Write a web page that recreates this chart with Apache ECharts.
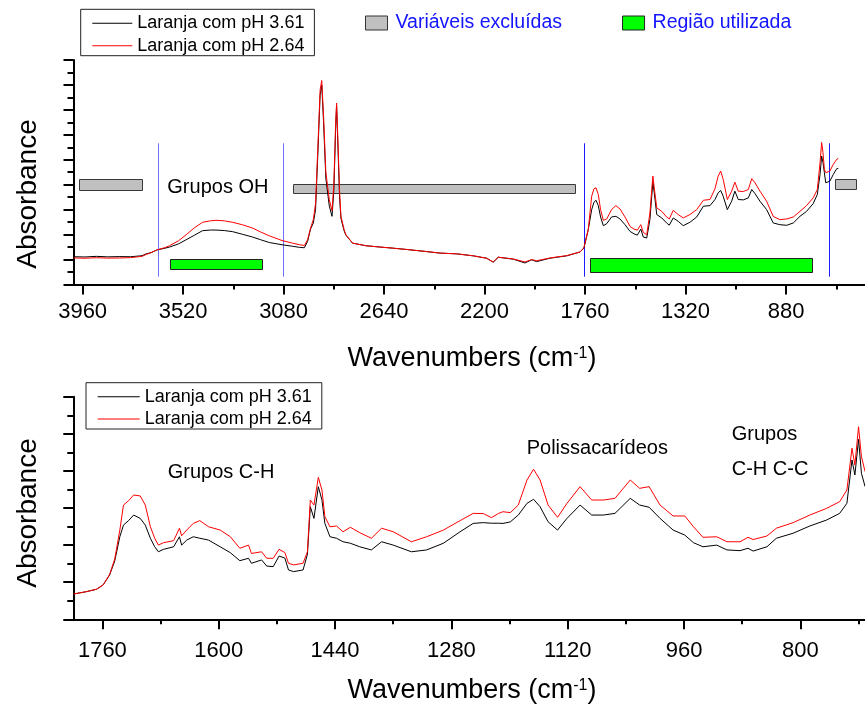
<!DOCTYPE html>
<html><head><meta charset="utf-8">
<script src="https://cdn.jsdelivr.net/npm/echarts@6/dist/echarts.min.js"></script>
<style>html,body{margin:0;padding:0;background:#fff}#c{width:865px;height:715px}</style>
</head><body><div id="c"></div>
<script>
const seriesNames = ['Laranja com pH 3.61', 'Laranja com pH 2.64'];
const regionNames = ['Variáveis excluídas', 'Região utilizada'];
const topTicks = [880, 1320, 1760, 2200, 2640, 3080, 3520, 3960];
const topMinorTicks = [660, 1100, 1540, 1980, 2420, 2860, 3300, 3740];
const bottomTicks = [800, 960, 1120, 1280, 1440, 1600, 1760];
const bottomMinorTicks = [720, 880, 1040, 1200, 1360, 1520, 1680];

const topWavenumbers = [4000,3950,3900,3850,3800,3750,3700,3682,3660,3634,3600,3580,3540,3507,3470,3435,3400,3376,3340,3303,3260,3216,3180,3143,3087,3041,3010,2989,2975,2962,2950,2940,2930,2920,2913,2905,2895,2880,2868,2860,2852,2848,2842,2835,2829,2815,2807,2778,2719,2660,2603,2530,2457,2395,2322,2249,2191,2162,2140,2074,2023,1994,1972,1914,1840,1782,1765,1746,1731,1721,1712,1702,1692,1680,1665,1644,1625,1607,1585,1563,1546,1531,1516,1505,1490,1483,1476,1468,1463,1457,1446,1424,1403,1391,1374,1352,1330,1301,1271,1242,1213,1191,1177,1166,1155,1137,1118,1104,1089,1067,1045,1030,1016,994,965,936,907,877,848,819,790,761,743,731,724,718,712,706,688,673,658,651];
const topPH361 = [2.22,2.20,2.25,2.21,2.23,2.22,2.30,2.45,2.55,2.77,2.90,2.99,3.25,3.58,3.95,4.31,4.36,4.36,4.32,4.23,4.02,3.80,3.58,3.36,3.18,3.06,2.97,2.94,3.45,4.44,4.92,6.0,10.5,15.2,16.0,13.0,8.5,6.3,5.46,7.5,12.5,14.3,11.0,7.0,5.3,4.3,3.95,3.31,3.10,3.0,2.91,2.78,2.64,2.51,2.45,2.29,2.10,1.78,2.18,2.02,1.72,1.97,1.83,2.10,2.29,2.60,2.91,4.39,6.0,6.59,6.75,6.32,5.41,4.71,4.87,5.41,5.46,5.25,4.79,4.25,4.06,3.95,4.44,3.80,3.72,3.85,5.19,7.07,8.2,7.35,5.60,5.33,4.93,4.75,5.33,5.06,4.71,4.98,5.41,6.27,6.32,6.81,7.35,7.53,7.07,6.0,6.67,7.48,6.81,6.78,6.94,7.61,7.29,6.67,6.0,4.93,4.79,4.74,4.93,5.46,5.86,6.48,7.21,8.82,10.3,9.76,8.96,8.15,8.28,8.82,9.28,9.30];
const topPH264 = [2.12,2.10,2.14,2.11,2.12,2.15,2.25,2.40,2.55,2.77,2.95,3.10,3.50,3.98,4.55,4.98,5.10,5.14,5.10,4.98,4.78,4.52,4.20,3.90,3.52,3.31,3.18,3.12,3.58,4.52,5.19,6.5,11.0,15.6,16.35,13.5,9.0,6.8,5.92,8.0,13.0,14.55,11.5,7.5,5.46,4.4,3.98,3.31,3.10,3.0,2.91,2.78,2.64,2.51,2.45,2.29,2.10,1.80,2.18,2.04,1.80,1.99,1.90,2.12,2.31,2.60,2.95,4.39,7.07,7.67,7.75,7.21,6.0,5.14,5.25,6.0,6.32,6.05,5.41,4.65,4.44,4.35,4.79,4.17,3.98,4.1,5.73,7.61,8.69,7.75,6.14,5.86,5.41,5.25,5.94,5.60,5.33,5.60,6.0,6.75,6.81,7.67,8.69,9.09,8.42,6.81,7.48,8.2,7.48,7.45,7.61,8.48,8.15,7.48,6.67,5.46,5.19,5.25,5.41,5.86,6.32,6.94,7.61,9.76,11.38,10.57,9.23,8.96,9.09,9.63,10.03,10.10];

const bottomWavenumbers = [1800,1782,1768,1759,1750,1743,1736,1731,1724,1717,1708,1701,1694,1688,1683,1676,1662,1654,1651,1644,1635,1626,1614,1598,1584,1571,1559,1555,1541,1534,1525,1517,1509,1504,1497,1484,1478,1474,1469,1463,1458,1454,1447,1438,1429,1419,1406,1390,1376,1360,1335,1314,1291,1268,1250,1236,1225,1215,1209,1199,1188,1176,1167,1158,1147,1134,1121,1103,1087,1071,1055,1034,1021,1008,993,975,959,947,934,915,901,883,872,865,846,833,810,787,764,746,736,729,725,720,716,711];
const bottomPH361 = [1.36,1.49,1.62,1.85,2.39,3.15,4.45,5.08,5.32,5.62,5.44,5.08,4.37,3.91,3.64,3.77,3.91,4.45,4.0,4.27,4.45,4.37,4.27,3.91,3.59,3.16,3.29,3.02,3.20,2.87,2.84,3.41,3.30,2.66,2.57,2.66,3.5,6.07,5.44,7.15,6.43,5.17,4.45,4.37,4.18,4.10,3.91,3.74,4.18,4.00,3.64,3.74,4.10,4.72,5.17,5.21,5.18,5.18,5.17,5.25,5.62,6.25,6.47,6.07,5.26,4.81,5.44,6.16,5.62,5.62,5.71,6.52,6.16,6.04,5.44,4.81,4.54,4.13,3.91,4.00,3.74,3.70,3.83,3.68,3.91,4.37,4.64,5.03,5.35,5.71,6.25,8.59,7.78,9.70,7.87,7.15];
const bottomPH264 = [1.36,1.49,1.62,1.85,2.42,3.25,4.81,6.16,6.39,6.70,6.65,6.16,4.99,4.37,4.00,4.13,4.24,4.91,4.5,4.81,5.17,5.32,4.99,4.81,4.45,3.83,4.00,3.55,3.64,3.29,3.29,3.77,3.60,3.02,2.93,3.02,3.64,6.43,6.16,7.65,6.97,5.53,4.99,5.03,4.72,4.96,4.67,4.37,4.91,4.72,4.18,4.45,4.81,5.32,5.71,5.70,5.48,5.71,5.80,5.75,6.16,7.51,8.09,7.51,6.16,5.50,6.25,7.15,6.43,6.43,6.52,7.51,7.06,7.15,6.16,5.57,5.57,4.99,4.42,4.45,4.18,4.18,4.42,4.30,4.49,4.91,5.21,5.62,5.98,6.34,6.97,9.22,8.32,10.38,8.77,7.96];

// [wavenumber start, wavenumber end, y bottom, y top]
const excludedRegions = [[3976,3701,7.56,8.42],[3038,1804,7.35,8.07],[666,574,7.67,8.48]];
const usedRegions = [[3577,3175,1.22,2.02],[1738,765,0.96,2.10]];
// [wavenumber, y bottom, y top]
const boundaryLines = [[3631,0.62,11.32],[3084,0.62,11.32],[1766,0.62,11.32],[691,0.62,11.32]];

const FONT = '"Liberation Sans", Arial, Helvetica, sans-serif';
const chart = echarts.init(document.getElementById('c'), null, {renderer:'canvas'});

function pairs(xs, ys){ return xs.map((x,i)=>[x, ys[i]]); }

function mainX(gridIndex, min, max, ticks, margin){
  return {type:'value', gridIndex, min, max, inverse:true, position:'bottom',
    axisLine:{show:true, onZero:false, lineStyle:{color:'#000', width:2}},
    axisTick:{show:true, length:10, customValues:ticks, lineStyle:{color:'#000', width:2}},
    axisLabel:{show:true, customValues:ticks, margin, color:'#000', fontSize:22, fontFamily:FONT,
      formatter:function(v){ return String(v); }},
    splitLine:{show:false}, minorTick:{show:false}};
}
function minorX(gridIndex, min, max, ticks){
  return {type:'value', gridIndex, min, max, inverse:true, position:'bottom',
    axisLine:{show:false},
    axisTick:{show:true, length:5, customValues:ticks, lineStyle:{color:'#000', width:2}},
    axisLabel:{show:false}, splitLine:{show:false}};
}
function yAx(gridIndex, max){
  return {type:'value', gridIndex, min:0, max, interval:2,
    axisLine:{show:true, onZero:false, lineStyle:{color:'#000', width:2}},
    axisTick:{show:true, length:10, lineStyle:{color:'#000', width:2}},
    minorTick:{show:true, splitNumber:2, length:6, lineStyle:{color:'#000', width:2}},
    axisLabel:{show:false}, splitLine:{show:false}, minorSplitLine:{show:false}};
}

function lineSeries(name, xi, yi, data, color){
  return {type:'line', name, xAxisIndex:xi, yAxisIndex:yi, data, symbol:'none', showSymbol:false,
    lineStyle:{color, width:1}, itemStyle:{color}, silent:true, clip:true, z:3};
}

function rectRender(fill, stroke){
  return function(params, api){
    const p0 = api.coord([api.value(0), api.value(3)]);
    const p1 = api.coord([api.value(1), api.value(2)]);
    return {type:'rect', shape:{x:Math.round(Math.min(p0[0],p1[0]))+0.5, y:Math.round(Math.min(p0[1],p1[1]))+0.5,
      width:Math.round(Math.abs(p1[0]-p0[0])), height:Math.round(Math.abs(p1[1]-p0[1]))},
      style:{fill, stroke, lineWidth:1}};
  };
}

const lineLegendData = [
  {name:seriesNames[0], icon:'rect', itemStyle:{color:'#000000'}},
  {name:seriesNames[1], icon:'rect', itemStyle:{color:'#ff0000'}}
];

const option = {
  animation:false,
  backgroundColor:'#fff',
  grid:[
    {left:73.5, top:60, width:813, height:224.4, outerBoundsMode:'none', containLabel:false},
    {left:73.3, top:396.7, width:843.4, height:222.6, outerBoundsMode:'none', containLabel:false}
  ],
  xAxis:[
    mainX(0, 440, 4000, topTicks, 17),
    minorX(0, 440, 4000, topMinorTicks),
    mainX(1, 640, 1800, bottomTicks, 21),
    minorX(1, 640, 1800, bottomMinorTicks)
  ],
  yAxis:[ yAx(0, 18), yAx(1, 12) ],
  legend:[
    {data:lineLegendData, orient:'vertical', left:80.7, top:9.3, padding:[5,10,1,11.6], itemGap:4.4,
      itemWidth:40, itemHeight:1, borderColor:'#222', borderWidth:1,
      textStyle:{fontSize:18, lineHeight:18, color:'#000', fontFamily:FONT}},
    {data:[
        {name:regionNames[0], icon:'rect', itemStyle:{color:'#c0c0c0', borderColor:'#333', borderWidth:1}},
        {name:regionNames[1], icon:'rect', itemStyle:{color:'#00ff00', borderColor:'#222', borderWidth:1}}],
      orient:'horizontal', left:365, top:12, padding:0, itemGap:60, itemWidth:22, itemHeight:14,
      textStyle:{fontSize:19.5, lineHeight:22, color:'#1414ff', fontFamily:FONT, padding:[0,0,0,3]}},
    {data:lineLegendData, orient:'vertical', left:86, top:382.7, padding:[5,10,1,11.7], itemGap:4.3,
      itemWidth:42, itemHeight:1, borderColor:'#222', borderWidth:1,
      textStyle:{fontSize:18, lineHeight:18, color:'#000', fontFamily:FONT}}
  ],
  series:[
    {type:'custom', name:regionNames[0], xAxisIndex:0, yAxisIndex:0, data:excludedRegions,
      renderItem:rectRender('#c0c0c0', '#3a3a3a'), itemStyle:{color:'#c0c0c0'}, silent:true, z:2},
    {type:'custom', name:regionNames[1], xAxisIndex:0, yAxisIndex:0, data:usedRegions,
      renderItem:rectRender('#00ff00', '#222'), itemStyle:{color:'#00ff00'}, silent:true, z:2},
    {type:'custom', name:'boundaries', xAxisIndex:0, yAxisIndex:0, data:boundaryLines, silent:true, z:2,
      renderItem:function(params, api){
        const a = api.coord([api.value(0), api.value(1)]);
        const b = api.coord([api.value(0), api.value(2)]);
        const x = Math.round(a[0]) + 0.5;
        return {type:'line', shape:{x1:x, y1:a[1], x2:x, y2:b[1]},
          style:{stroke: params.dataIndex < 2 ? '#7070ff' : '#1a1aff', lineWidth:1}};
      }},
    lineSeries(seriesNames[0], 0, 0, pairs(topWavenumbers, topPH361), '#000000'),
    lineSeries(seriesNames[1], 0, 0, pairs(topWavenumbers, topPH264), '#ff0000'),
    lineSeries(seriesNames[0], 2, 1, pairs(bottomWavenumbers, bottomPH361), '#000000'),
    lineSeries(seriesNames[1], 2, 1, pairs(bottomWavenumbers, bottomPH264), '#ff0000')
  ],
  graphic:[
    {type:'text', x:167.3, y:187, style:{text:'Grupos OH', font:'20px '+FONT, fill:'#000', align:'left', verticalAlign:'middle'}},
    {type:'text', x:167.7, y:472.5, style:{text:'Grupos C-H', font:'20px '+FONT, fill:'#000', align:'left', verticalAlign:'middle'}},
    {type:'text', x:526.7, y:448.5, style:{text:'Polissacarídeos', font:'20px '+FONT, fill:'#000', align:'left', verticalAlign:'middle'}},
    {type:'text', x:731.7, y:434, style:{text:'Grupos', font:'20px '+FONT, fill:'#000', align:'left', verticalAlign:'middle'}},
    {type:'text', x:731.7, y:469, style:{text:'C-H C-C', font:'20px '+FONT, fill:'#000', align:'left', verticalAlign:'middle'}},
    {type:'text', x:28, y:194, rotation:Math.PI/2, style:{text:'Absorbance', font:'28px '+FONT, fill:'#000', align:'center', verticalAlign:'middle'}},
    {type:'text', x:28, y:513, rotation:Math.PI/2, style:{text:'Absorbance', font:'28px '+FONT, fill:'#000', align:'center', verticalAlign:'middle'}},
    {type:'text', x:472, y:359, style:{text:'{a|Wavenumbers (cm}{b|-1}{a|)}', align:'center', verticalAlign:'middle',
      rich:{a:{font:'27px '+FONT, fill:'#000'}, b:{font:'16px '+FONT, fill:'#000', verticalAlign:'top'}}}},
    {type:'text', x:472, y:691, style:{text:'{a|Wavenumbers (cm}{b|-1}{a|)}', align:'center', verticalAlign:'middle',
      rich:{a:{font:'27px '+FONT, fill:'#000'}, b:{font:'16px '+FONT, fill:'#000', verticalAlign:'top'}}}}
  ]
};
chart.setOption(option);
</script></body></html>
